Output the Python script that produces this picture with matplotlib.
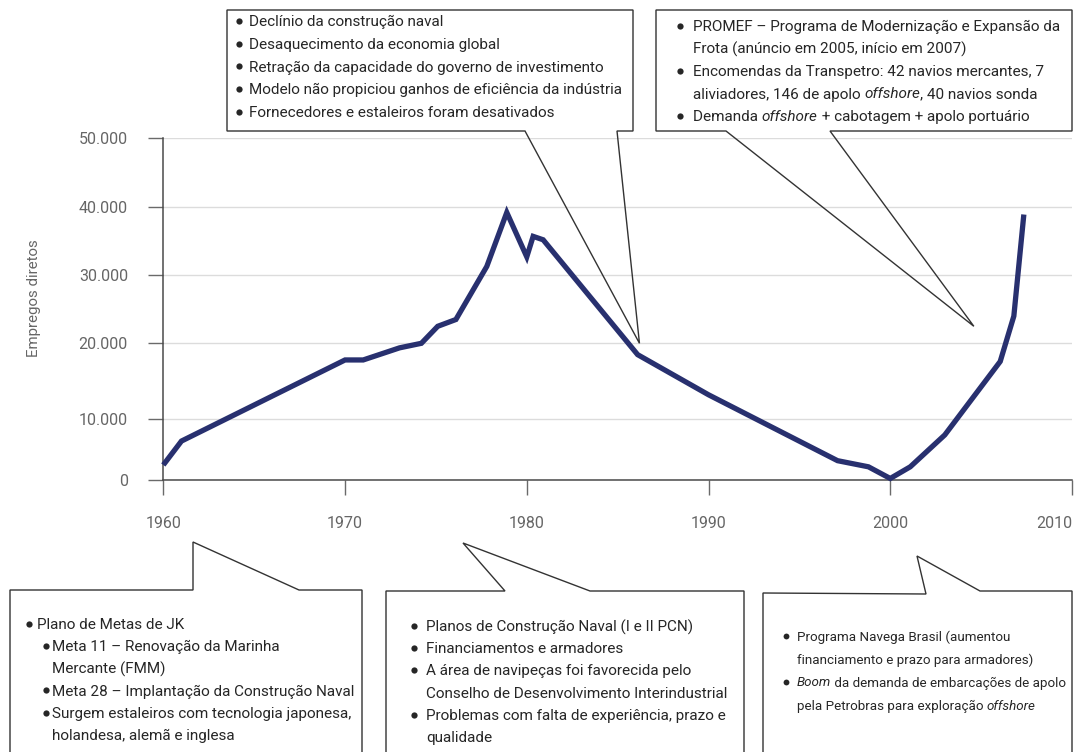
import matplotlib
matplotlib.use("Agg")
import matplotlib.pyplot as plt
import numpy as np
from matplotlib.patches import Polygon
from matplotlib.lines import Line2D

# ---------------- data ----------------
anos = [1960, 1961, 1970, 1971, 1973, 1974.2, 1975.1, 1976.1, 1977.8, 1978.9,
        1980.0, 1980.35, 1980.9, 1986.1, 1990.0, 1997.1, 1998.8, 2000.0,
        2001.1, 2003.0, 2006.05, 2006.8, 2007.35]
empregos = [2500, 6400, 17800, 17800, 19400, 20000, 22500, 23500, 31300, 39200,
            32700, 35700, 35200, 18500, 13200, 3200, 2200, 300,
            2200, 7400, 17600, 24000, 38900]

x_ticks = [1960, 1970, 1980, 1990, 2000, 2010]
x_tick_labels = ["1960", "1970", "1980", "1990", "2000", "2010"]
y_ticks = [0, 10000, 20000, 30000, 40000, 50000]
y_tick_labels = ["0", "10.000", "20.000", "30.000", "40.000", "50.000"]
y_label = "Empregos diretos"

# the original drawing has uneven gridline spacing (pixels above zero)
GRID_PX = [0, 61.3, 137.0, 205.0, 273.3, 342.0]

box_top_left = [
    [("Declínio da construção naval", "normal")],
    [("Desaquecimento da economia global", "normal")],
    [("Retração da capacidade do governo de investimento", "normal")],
    [("Modelo não propiciou ganhos de eficiência da indústria", "normal")],
    [("Fornecedores e estaleiros foram desativados", "normal")],
]
box_top_right = [
    (True, [("PROMEF – Programa de Modernização e Expansão da", "normal")]),
    (False, [("Frota (anúncio em 2005, início em 2007)", "normal")]),
    (True, [("Encomendas da Transpetro: 42 navios mercantes, 7", "normal")]),
    (False, [("aliviadores, 146 de apolo ", "normal"), ("offshore", "italic"),
             (", 40 navios sonda", "normal")]),
    (True, [("Demanda ", "normal"), ("offshore", "italic"),
            (" + cabotagem + apolo portuário", "normal")]),
]
box_bot1 = [
    (0, True, "Plano de Metas de JK"),
    (1, True, "Meta 11 – Renovação da Marinha"),
    (1, False, "Mercante (FMM)"),
    (1, True, "Meta 28 – Implantação da Construção Naval"),
    (1, True, "Surgem estaleiros com tecnologia japonesa,"),
    (1, False, "holandesa, alemã e inglesa"),
]
box_bot2 = [
    (True, "Planos de Construção Naval (I e II PCN)"),
    (True, "Financiamentos e armadores"),
    (True, "A área de navipeças foi favorecida pelo"),
    (False, "Conselho de Desenvolvimento Interindustrial"),
    (True, "Problemas com falta de experiência, prazo e"),
    (False, "qualidade"),
]
box_bot3 = [
    (True, [("Programa Navega Brasil (aumentou", "normal")]),
    (False, [("financiamento e prazo para armadores)", "normal")]),
    (True, [("Boom", "italic"), (" da demanda de embarcações de apolo", "normal")]),
    (False, [("pela Petrobras para exploração ", "normal"), ("offshore", "italic")]),
]

# ---------------- figure ----------------
plt.rcParams["font.family"] = ["Roboto", "DejaVu Sans"]
W, H = 1075, 752
fig = plt.figure(figsize=(W / 100, H / 100), dpi=100)
fig.patch.set_facecolor("white")


def P(x, y):
    return (x / W, 1 - y / H)


ax_l, ax_r, ax_b, ax_t = 163.3, 1072.0, 480.3, 138.3
ax = fig.add_axes([ax_l / W, 1 - ax_b / H, (ax_r - ax_l) / W, (ax_b - ax_t) / H])


def fwd(v):
    return np.interp(v, y_ticks, GRID_PX)


def inv(p):
    return np.interp(p, GRID_PX, y_ticks)


ax.set_yscale("function", functions=(fwd, inv))
ax.set_xlim(1960, 2010)
ax.set_ylim(0, 50000)

ax.plot(anos, empregos, color="#28306f", lw=3.8, solid_joinstyle="miter",
        solid_capstyle="butt", zorder=3, clip_on=False)

ax.set_xticks(x_ticks)
ax.set_xticklabels(x_tick_labels)
ax.set_yticks(y_ticks)
ax.set_yticklabels(y_tick_labels)
ax.yaxis.set_minor_locator(matplotlib.ticker.NullLocator())
ax.xaxis.set_minor_locator(matplotlib.ticker.NullLocator())
ax.grid(axis="y", color="#dcdcdc", lw=1.0, zorder=0)
ax.set_axisbelow(True)
for s in ["top", "right"]:
    ax.spines[s].set_visible(False)
for s in ["left", "bottom"]:
    ax.spines[s].set_color("#4a4a4a")
    ax.spines[s].set_linewidth(1.1)
ax.tick_params(axis="both", direction="out", length=11, width=1.0, color="#6a6a6a",
               labelcolor="#666666", labelsize=11.5)
ax.tick_params(axis="y", pad=14.5)
ax.tick_params(axis="x", pad=14.5)
ax.get_xticklabels()[-1].set_ha("right")

fig.text(*P(34, 298), y_label, rotation=90, ha="center", va="center",
         fontsize=10.8, color="#666666")

# ---------------- callouts ----------------
EC = "#333333"
LW = 1.0


def data_px(x, y):
    dx, dy = ax.transData.transform((x, y))
    return dx, H - dy


def poly(pts):
    fp = [P(x, y) for x, y in pts]
    fig.add_artist(Polygon(fp, closed=True, fill=False, edgecolor=EC, lw=LW,
                           transform=fig.transFigure, zorder=5, clip_on=False,
                           joinstyle="miter"))


tip1 = data_px(1986.2, 20000)
poly([(227, 10), (633, 10), (633, 131), (617, 131), tip1, (525, 131), (227, 131)])
tip2 = data_px(2004.6, 22500)
poly([(656, 10), (1072, 10), (1072, 131), (830, 131), tip2, (726, 131), (656, 131)])

poly([(10, 760), (10, 590), (193, 590), (193, 542), (299, 590), (362, 590), (362, 760)])
poly([(386, 760), (386, 591), (505, 591), (463, 543), (590, 591), (744, 591), (744, 760)])
poly([(763, 760), (763, 593), (926, 594), (917, 556), (980, 591), (1072, 591), (1072, 760)])

TC = "#262626"
FS = 11.0


def rich(x, y, segs, fs=FS):
    prev = fig.text(*P(x, y), segs[0][0], ha="left", va="center", fontsize=fs,
                    color=TC, style=segs[0][1], zorder=6)
    for txt, st in segs[1:]:
        prev = fig.add_artist(matplotlib.text.Annotation(
            txt, xy=(1, 0), xycoords=prev, xytext=(0, 0), textcoords="offset points",
            ha="left", va="bottom", fontsize=fs, color=TC, style=st, zorder=6))
    return prev


def bullet(x, y, ms=4.5):
    fig.add_artist(Line2D([x / W], [1 - (y - 1.2) / H], marker="o", ms=ms,
                          color=TC, mew=0, ls="none", transform=fig.transFigure,
                          zorder=6))


# top-left
for i, segs in enumerate(box_top_left):
    y = 22 + i * 22.8
    bullet(239, y)
    rich(249, y, segs)

# top-right
for i, (b, segs) in enumerate(box_top_right):
    y = 27 + i * 22.5
    if b:
        bullet(680, y)
    rich(693, y, segs)

# bottom 1
for i, (lvl, b, txt) in enumerate(box_bot1):
    y = 625 + i * 22.2
    if lvl == 0:
        bullet(29, y)
        rich(37, y, [(txt, "normal")])
    else:
        if b:
            bullet(46, y)
        rich(52, y, [(txt, "normal")])

# bottom 2
for i, (b, txt) in enumerate(box_bot2):
    y = 627 + i * 22.2
    if b:
        bullet(414, y)
    rich(426, y, [(txt, "normal")])

# bottom 3
for i, (b, segs) in enumerate(box_bot3):
    y = 637 + i * 23
    if b:
        bullet(786, y, ms=4.2)
    rich(797, y, segs, fs=9.6)

fig.savefig("out.png", dpi=100, facecolor="white")
